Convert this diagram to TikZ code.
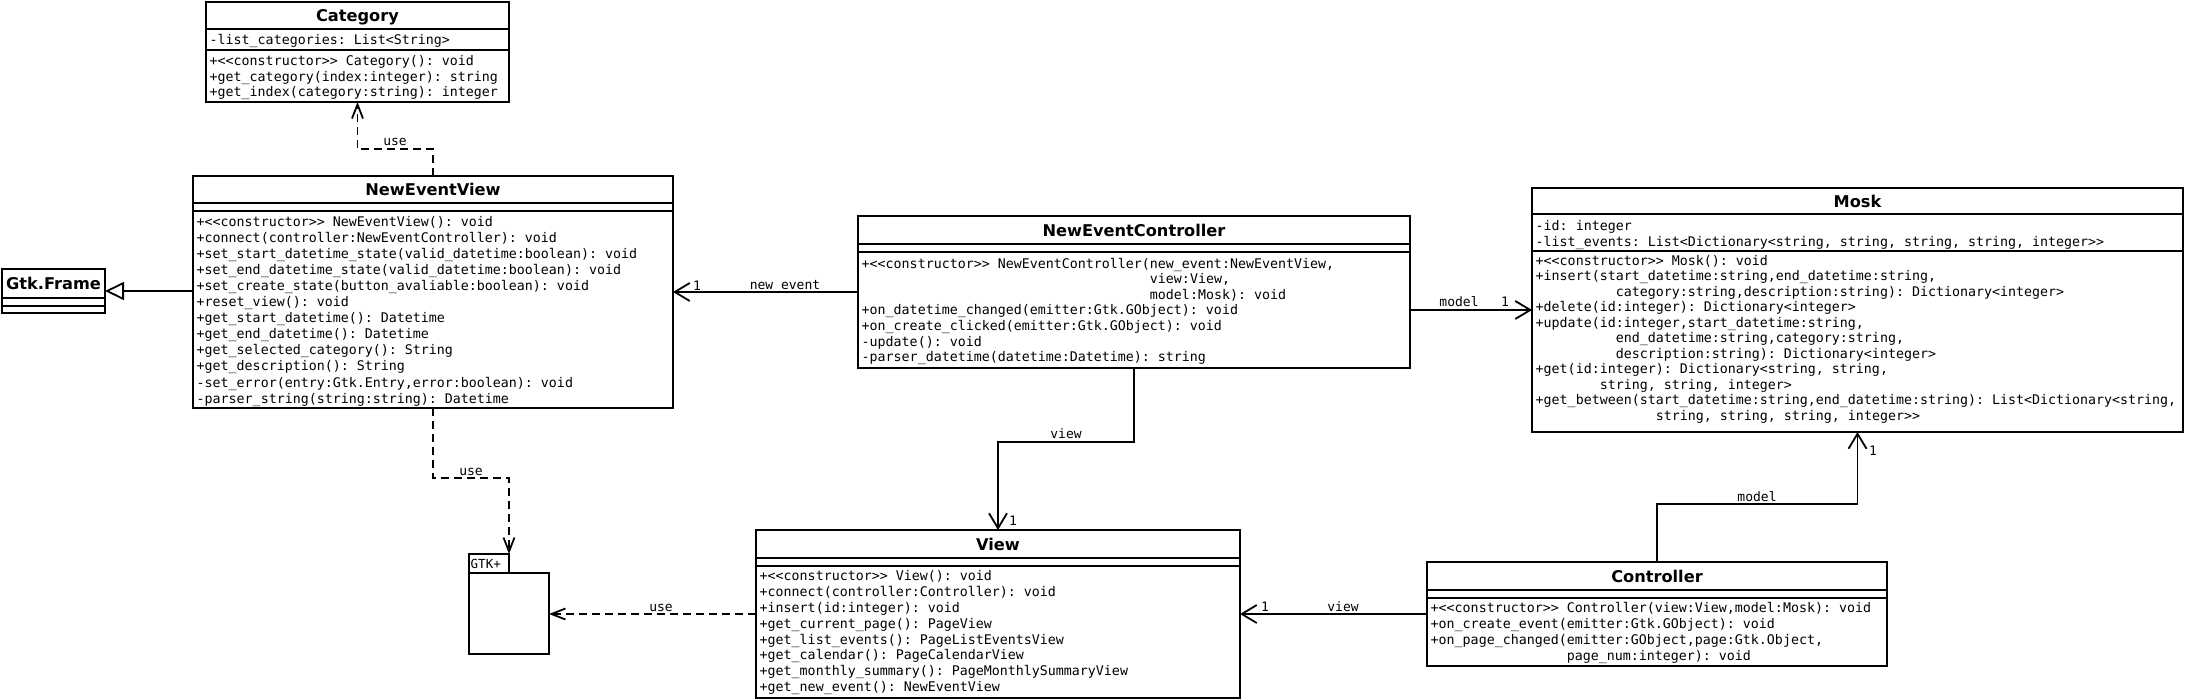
\documentclass[tikz,border=0pt]{standalone}
\usepackage{fontspec}
\setmainfont{DejaVu Sans}
\setsansfont{DejaVu Sans}
\setmonofont{DejaVu Sans Mono}
\usetikzlibrary{arrows.meta,calc}
\newcommand\st{\rule{0pt}{11.2pt}}
\newcommand\mfont[1]{\ttfamily\fontsize{13.3}{#1}\selectfont\frenchspacing}
\begin{document}
\begin{tikzpicture}[x=1pt,y=-1pt,
  box/.style={draw, line width=1.8pt, inner sep=0pt, outer sep=0pt, fill=white},
  cline/.style={line width=1.8pt},
  ttl/.style={anchor=base, inner sep=0pt, font=\sffamily\bfseries\fontsize{16.2}{18}\selectfont},
  mtxt/.style={anchor=north west, inner sep=0pt, align=left},
  lbl/.style={anchor=base, inner sep=0pt, font=\ttfamily\fontsize{13}{15}\selectfont},
  assoc/.style={line width=1.8pt, -{Straight Barb[length=15pt,width=18pt]}},
  dep/.style={line width=1.8pt, dash pattern=on 8pt off 5pt, -{Straight Barb[length=14pt,width=11pt]}},
  gen/.style={line width=1.8pt, -{Triangle[open,length=19pt,width=18pt,fill=white]}}
]
\useasboundingbox[fill=white] (0,0) rectangle (2185,699);

% ---------- Category
\node[box, minimum width=303pt, minimum height=100pt] (cat) at (357.5,52) {};
\draw[cline] (cat.west |- 0,29) -- (cat.east |- 0,29);
\draw[cline] (cat.west |- 0,50) -- (cat.east |- 0,50);
\node[ttl] (catT) at (357.5,21.5) {Category};
\node[mtxt, font=\mfont{15.5}] (catA) at (209.5,33.3) {\st-list\_categories: List<String>};
\node[mtxt, font=\mfont{15.5}] (catM) at (209.5,54.3) {\st+<<constructor>> Category(): void\\
+get\_category(index:integer): string\\
+get\_index(category:string): integer};

% ---------- NewEventView
\node[box, minimum width=480pt, minimum height=232pt] (nev) at (433,292) {};
\draw[cline] (nev.west |- 0,203) -- (nev.east |- 0,203);
\draw[cline] (nev.west |- 0,211) -- (nev.east |- 0,211);
\node[ttl] (nevT) at (433,195.5) {NewEventView};
\node[mtxt, font=\mfont{16.06}] (nevM) at (196.5,215) {\st+<<constructor>> NewEventView(): void\\
+connect(controller:NewEventController): void\\
+set\_start\_datetime\_state(valid\_datetime:boolean): void\\
+set\_end\_datetime\_state(valid\_datetime:boolean): void\\
+set\_create\_state(button\_avaliable:boolean): void\\
+reset\_view(): void\\
+get\_start\_datetime(): Datetime\\
+get\_end\_datetime(): Datetime\\
+get\_selected\_category(): String\\
+get\_description(): String\\
-set\_error(entry:Gtk.Entry,error:boolean): void\\
-parser\_string(string:string): Datetime};

% ---------- Gtk.Frame
\node[box, minimum width=103pt, minimum height=44pt] (gtk) at (53.5,291) {};
\draw[cline] (gtk.west |- 0,298) -- (gtk.east |- 0,298);
\draw[cline] (gtk.west |- 0,306) -- (gtk.east |- 0,306);
\node[ttl] (gtkT) at (53.5,289.4) {Gtk.Frame};

% ---------- NewEventController
\node[box, minimum width=552pt, minimum height=152pt] (nec) at (1134,292) {};
\draw[cline] (nec.west |- 0,244) -- (nec.east |- 0,244);
\draw[cline] (nec.west |- 0,252) -- (nec.east |- 0,252);
\node[ttl] (necT) at (1134,236) {NewEventController};
\node[mtxt, font=\mfont{15.6}] (necM) at (861.5,256.6) {\st+<<constructor>> NewEventController(new\_event:NewEventView,\\
\hspace*{21.674em}view:View,\\
\hspace*{21.674em}model:Mosk): void\\
+on\_datetime\_changed(emitter:Gtk.GObject): void\\
+on\_create\_clicked(emitter:Gtk.GObject): void\\
-update(): void\\
-parser\_datetime(datetime:Datetime): string};

% ---------- Mosk
\node[box, minimum width=651pt, minimum height=244pt] (mosk) at (1857.5,310) {};
\draw[cline] (mosk.west |- 0,214) -- (mosk.east |- 0,214);
\draw[cline] (mosk.west |- 0,251) -- (mosk.east |- 0,251);
\node[ttl] (moskT) at (1857.5,207) {Mosk};
\node[mtxt, font=\mfont{15.5}] (moskA) at (1535.5,219.1) {\st-id: integer\\
-list\_events: List<Dictionary<string, string, string, string, integer>{}>};
\node[mtxt, font=\mfont{15.5}] (moskM) at (1535.5,254) {\st+<<constructor>> Mosk(): void\\
+insert(start\_datetime:string,end\_datetime:string,\\
\hspace*{6.0205em}category:string,description:string): Dictionary<integer>\\
+delete(id:integer): Dictionary<integer>\\
+update(id:integer,start\_datetime:string,\\
\hspace*{6.0205em}end\_datetime:string,category:string,\\
\hspace*{6.0205em}description:string): Dictionary<integer>\\
+get(id:integer): Dictionary<string, string,\\
\hspace*{4.8164em}string, string, integer>\\
+get\_between(start\_datetime:string,end\_datetime:string): List<Dictionary<string,\\
\hspace*{9.031em}string, string, string, integer>{}>};

% ---------- View
\node[box, minimum width=484pt, minimum height=168pt] (view) at (998,614) {};
\draw[cline] (view.west |- 0,558) -- (view.east |- 0,558);
\draw[cline] (view.west |- 0,566) -- (view.east |- 0,566);
\node[ttl] (viewT) at (998,550) {View};
\node[mtxt, font=\mfont{15.9}] (viewM) at (759.5,569) {\st+<<constructor>> View(): void\\
+connect(controller:Controller): void\\
+insert(id:integer): void\\
+get\_current\_page(): PageView\\
+get\_list\_events(): PageListEventsView\\
+get\_calendar(): PageCalendarView\\
+get\_monthly\_summary(): PageMonthlySummaryView\\
+get\_new\_event(): NewEventView};

% ---------- Controller
\node[box, minimum width=460pt, minimum height=104pt] (ctrl) at (1657,614) {};
\draw[cline] (ctrl.west |- 0,590) -- (ctrl.east |- 0,590);
\draw[cline] (ctrl.west |- 0,598) -- (ctrl.east |- 0,598);
\node[ttl] (ctrlT) at (1657,582) {Controller};
\node[mtxt, font=\mfont{16}] (ctrlM) at (1430.5,601.3) {\st+<<constructor>> Controller(view:View,model:Mosk): void\\
+on\_create\_event(emitter:Gtk.GObject): void\\
+on\_page\_changed(emitter:GObject,page:Gtk.Object,\\
\hspace*{10.235em}page\_num:integer): void};

% ---------- GTK+ package
\node[box, minimum width=40pt, minimum height=19pt] (gtktab) at (489,563.5) {};
\node[box, minimum width=80pt, minimum height=81pt] (gtkbody) at (509,613.5) {};
\node[anchor=base west, inner sep=0pt, font=\ttfamily\fontsize{12.5}{14}\selectfont] (gtktabT) at (470.5,568) {GTK+};

% ---------- connectors
\draw[dep] (nev.north) -- ++(0,-27) -| (cat.south);
\draw[dep] (nev.south) -- ++(0,70) -| (gtktab.north east);
\draw[dep] (view.west) -- (view.west -| gtkbody.east);
\draw[gen] (nev.west |- gtk.east) -- (gtk.east);
\draw[assoc] (nec.west) -- (nev.east);
\draw[assoc] (nec.east |- mosk.west) -- (mosk.west);
\draw[assoc] (nec.south) -- ++(0,74) -| (view.north);
\draw[assoc] (ctrl.west) -- (view.east);
\draw[assoc] (ctrl.north) -- ++(0,-58) -| (mosk.south);

% ---------- labels
\node[lbl] (l1) at (395,145) {use};
\node[lbl] (l2) at (471,475) {use};
\node[lbl] (l3) at (661,611) {use};
\node[lbl] (l4) at (785,289) {new\_event};
\node[lbl] (l5) at (697,290) {1};
\node[lbl] (l6) at (1459,306) {model};
\node[lbl] (l7) at (1505,306) {1};
\node[lbl] (l8) at (1066,438) {view};
\node[lbl] (l9) at (1013,525) {1};
\node[lbl] (l10) at (1343,611) {view};
\node[lbl] (l11) at (1265,611) {1};
\node[lbl] (l12) at (1757,501) {model};
\node[lbl] (l13) at (1873,455) {1};
\end{tikzpicture}
\end{document}
